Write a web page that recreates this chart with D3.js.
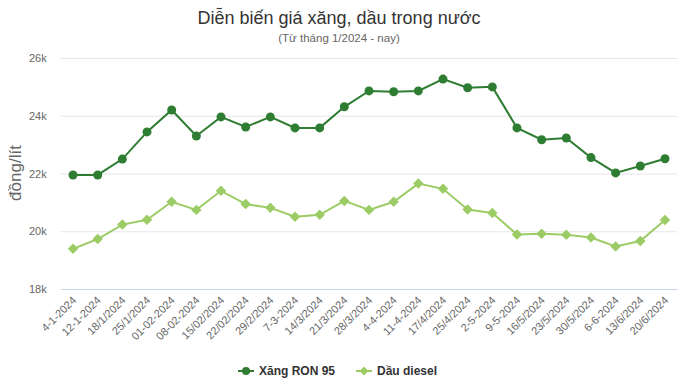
<!DOCTYPE html>
<html><head><meta charset="utf-8">
<script src="https://cdn.jsdelivr.net/npm/d3@7/dist/d3.min.js"></script>
<style>body{margin:0;background:#fff}svg{display:block;font-family:"Liberation Sans",Arial,sans-serif}</style>
</head><body><svg id="c" width="678" height="379"></svg>
<script>
const categories = ["4-1-2024","12-1-2024","18/1/2024","25/1/2024","01-02-2024","08-02-2024","15/02/2024","22/02/2024","29/2/2024","7-3-2024","14/3/2024","21/3/2024","28/3/2024","4-4-2024","11-4-2024","17/4/2024","25/4/2024","2-5-2024","9-5-2024","16/5/2024","23/5/2024","30/5/2024","6-6-2024","13/6/2024","20/6/2024"];
const ron95 = [21950,21950,22500,23440,24200,23300,23960,23610,23960,23580,23580,24310,24860,24830,24860,25270,24970,25000,23580,23170,23230,22550,22020,22260,22510];
const diesel = [19390,19730,20230,20400,21020,20740,21400,20940,20810,20500,20570,21050,20740,21020,21650,21470,20750,20630,19890,19910,19880,19780,19470,19660,20390];
const yTicks = [18000,20000,22000,24000,26000];

const svg = d3.select("#c");
const L = 60.7, R = 677.3, T = 58, B = 289;
const x = d3.scaleBand().domain(categories).range([L, R]);
const y = d3.scaleLinear().domain([18000, 26000]).range([B, T]);
const cx = d => x(d) + x.bandwidth() / 2;

svg.append("text").attr("x", 339).attr("y", 24).attr("text-anchor", "middle")
  .attr("font-size", 18).attr("fill", "#333").text("Diễn biến giá xăng, dầu trong nước");
svg.append("text").attr("x", 339).attr("y", 42).attr("text-anchor", "middle")
  .attr("font-size", 11.5).attr("fill", "#666").text("(Từ tháng 1/2024 - nay)");

// grid
const gy = svg.append("g").attr("transform", `translate(${L},0)`)
  .call(d3.axisLeft(y).tickValues(yTicks).tickSize(-(R - L)).tickFormat(d => d / 1000 + "k"));
gy.select(".domain").remove();
gy.selectAll(".tick line").attr("stroke", "#e6e6e6");
gy.selectAll(".tick text").attr("x", -14).attr("font-size", 11).attr("fill", "#666")
  .attr("font-family", "Liberation Sans, Arial, sans-serif");
gy.selectAll(".tick").filter(d => d === 18000).select("line").attr("stroke", "#ccd6eb");

// x axis
const gx = svg.append("g").attr("transform", `translate(0,${B})`)
  .call(d3.axisBottom(x).tickSize(0));
gx.select(".domain").attr("stroke", "#ccd6eb");
gx.selectAll(".tick text").attr("font-size", 11).attr("fill", "#666")
  .attr("font-family", "Liberation Sans, Arial, sans-serif")
  .attr("text-anchor", "end").attr("dy", null).attr("y", null)
  .attr("transform", "translate(4,12) rotate(-45)");

svg.append("text").attr("transform", "translate(21,173) rotate(-90)")
  .attr("text-anchor", "middle").attr("font-size", 17).attr("fill", "#666").text("đồng/lít");

const line = d3.line().x((d, i) => cx(categories[i])).y(d => y(d));
const c1 = "#2e7d32", c2 = "#9ccc65";
svg.append("path").datum(diesel).attr("d", line).attr("fill", "none").attr("stroke", c2).attr("stroke-width", 2);
svg.append("path").datum(ron95).attr("d", line).attr("fill", "none").attr("stroke", c1).attr("stroke-width", 2);
const diamond = d3.symbol().type(d3.symbolDiamond2).size(70);
svg.append("g").selectAll("path").data(diesel).join("path").attr("d", diamond)
  .attr("transform", (d, i) => `translate(${cx(categories[i])},${y(d)})`).attr("fill", c2);
svg.append("g").selectAll("circle").data(ron95).join("circle")
  .attr("cx", (d, i) => cx(categories[i])).attr("cy", d => y(d)).attr("r", 4.5).attr("fill", c1);

// legend
const lg = svg.append("g").attr("font-size", 12).attr("font-weight", "bold").attr("fill", "#333");
lg.append("line").attr("x1", 238).attr("x2", 254).attr("y1", 371).attr("y2", 371).attr("stroke", c1).attr("stroke-width", 2);
lg.append("circle").attr("cx", 246).attr("cy", 371).attr("r", 4).attr("fill", c1);
lg.append("text").attr("x", 259).attr("y", 375).text("Xăng RON 95");
lg.append("line").attr("x1", 356).attr("x2", 372).attr("y1", 371).attr("y2", 371).attr("stroke", c2).attr("stroke-width", 2);
lg.append("path").attr("d", d3.symbol().type(d3.symbolDiamond2).size(50)).attr("transform", "translate(364,371)").attr("fill", c2);
lg.append("text").attr("x", 377).attr("y", 375).text("Dầu diesel");
</script></body></html>
